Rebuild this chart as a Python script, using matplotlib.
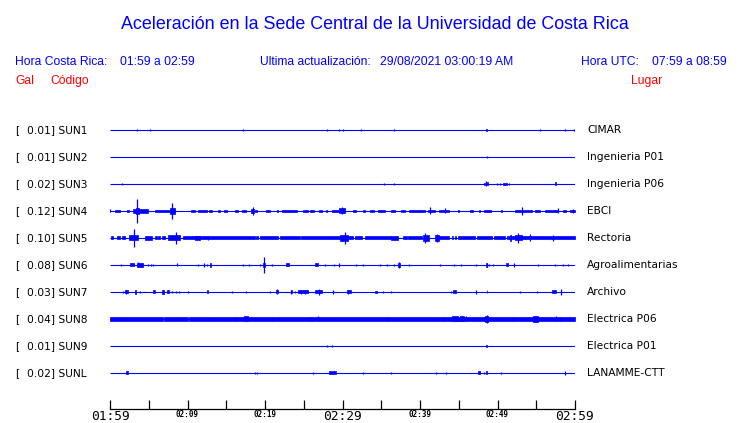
import matplotlib
matplotlib.use("Agg")
import matplotlib.pyplot as plt

codes = ["SUN1", "SUN2", "SUN3", "SUN4", "SUN5", "SUN6", "SUN7", "SUN8", "SUN9", "SUNL"]
gals = [0.01, 0.01, 0.02, 0.12, 0.10, 0.08, 0.03, 0.04, 0.01, 0.02]
places = ["CIMAR", "Ingenieria P01", "Ingenieria P06", "EBCI", "Rectoria",
          "Agroalimentarias", "Archivo", "Electrica P06", "Electrica P01", "LANAMME-CTT"]

# bursts per station: (start minute, end minute, half amplitude); start == end is a spike
sun1 = [(3.5, 3.5, 1.3), (5.2, 5.2, 0.8), (17.1, 17.1, 0.8), (28.0, 28.0, 0.8), (29.6, 29.6, 1.3),
        (30.0, 30.0, 0.8), (32.4, 32.4, 0.8), (36.7, 36.7, 1.3), (48.55, 48.7, 1.2), (55.5, 55.5, 1.3),
        (58.7, 58.7, 1.3), (59.9, 59.9, 1.3)]
sun2 = [(48.6, 48.6, 0.8)]
sun3 = [(1.6, 1.6, 0.8), (35.4, 35.4, 0.8), (36.6, 36.6, 1.3), (48.2, 48.4, 1.2), (48.5, 48.5, 2.5),
        (48.6, 48.8, 1.5), (49.9, 49.9, 0.8), (50.3, 50.3, 0.8), (50.7, 51.2, 1.3), (51.5, 51.5, 0.8),
        (57.4, 57.6, 1.5)]
sun4 = [(0.05, 0.05, 1.5), (0.65, 1.3, 1.3), (2.15, 2.4, 1.3), (3.0, 4.95, 1.6), (3.3, 3.8, 3.0),
        (3.5, 3.5, 12.0), (5.8, 8.4, 1.3), (7.7, 8.4, 3.0), (7.95, 7.95, 8.0), (10.45, 10.95, 1.3),
        (11.4, 12.5, 1.3), (12.8, 13.1, 1.3), (13.9, 14.2, 1.3), (14.7, 15.1, 1.3), (16.1, 16.5, 1.3),
        (17.0, 17.6, 1.3), (18.2, 18.6, 2.0), (18.4, 18.4, 4.0), (18.7, 19.0, 1.3), (20.1, 20.7, 1.3),
        (21.5, 21.7, 1.3), (22.15, 24.1, 1.3), (24.9, 25.6, 1.3), (25.8, 26.3, 1.3), (27.0, 27.4, 1.3),
        (27.9, 28.0, 1.3), (28.6, 30.3, 1.3), (29.5, 30.3, 2.5), (29.9, 29.9, 3.5), (31.4, 31.8, 1.3),
        (32.7, 32.9, 1.3), (33.5, 34.1, 1.3), (34.6, 35.5, 1.3), (36.3, 36.8, 1.3), (37.5, 38.1, 1.3),
        (38.6, 40.6, 1.3), (41.0, 41.9, 1.3), (41.3, 41.3, 3.5), (42.5, 43.7, 1.3), (43.2, 43.2, 2.5),
        (44.9, 45.0, 1.3), (46.5, 46.9, 1.3), (47.6, 47.8, 1.3), (48.3, 49.2, 1.3), (50.5, 50.6, 1.3),
        (52.3, 54.4, 1.3), (53.2, 53.2, 4.0), (54.8, 55.5, 1.3), (56.1, 57.85, 1.3), (57.8, 57.8, 2.5),
        (58.4, 58.9, 1.3), (59.4, 60.0, 1.3), (59.8, 59.8, 2.0)]
sun5 = [(0.1, 0.4, 1.5), (0.85, 1.3, 1.5), (1.5, 1.95, 1.5), (2.4, 3.65, 2.5), (3.1, 3.1, 9.0),
        (4.5, 5.4, 2.0), (5.8, 6.0, 1.5), (6.25, 6.45, 1.5), (6.65, 7.1, 1.5), (7.5, 9.0, 2.5),
        (8.5, 8.5, 6.0), (9.45, 18.7, 1.5), (11.0, 11.6, 2.2), (12.7, 12.7, 2.2), (18.9, 19.1, 1.5),
        (19.35, 21.7, 1.5), (21.9, 24.5, 1.5), (24.7, 29.7, 1.5), (29.7, 30.7, 3.0), (30.3, 30.3, 6.0),
        (30.7, 31.4, 1.5), (31.6, 32.5, 1.5), (32.9, 36.3, 1.5), (36.3, 37.2, 2.0), (37.8, 38.3, 1.5),
        (38.5, 40.2, 1.5), (40.4, 41.1, 3.0), (40.6, 40.6, 5.0), (41.9, 42.4, 3.0), (42.15, 42.15, 4.0),
        (42.4, 43.7, 1.5), (44.1, 44.3, 1.5), (44.5, 44.7, 1.5), (44.9, 47.1, 1.5), (47.3, 49.25, 1.5),
        (49.5, 51.0, 1.5), (51.2, 53.5, 1.5), (51.6, 51.8, 3.0), (52.2, 53.2, 2.5), (52.7, 52.7, 5.0),
        (53.5, 60.0, 1.5), (54.2, 54.2, 3.5), (57.2, 57.2, 3.0)]
sun6 = [(1.4, 1.4, 1.0), (2.6, 3.15, 1.5), (3.45, 4.2, 1.8), (3.65, 3.65, 2.5), (4.9, 4.9, 1.0),
        (5.3, 5.3, 0.8), (5.6, 5.6, 0.8), (8.7, 8.7, 1.5), (11.4, 11.4, 1.0), (12.1, 12.1, 2.0),
        (12.5, 12.5, 1.3), (12.9, 13.0, 2.2), (17.2, 17.2, 1.0), (17.9, 17.9, 1.0), (19.35, 19.35, 1.3),
        (19.75, 20.05, 2.0), (19.9, 19.9, 8.0), (20.9, 20.9, 1.0), (22.7, 23.1, 1.5), (26.45, 26.8, 1.5),
        (27.7, 27.7, 1.2), (28.95, 28.95, 1.2), (29.5, 29.5, 2.2), (31.7, 31.7, 1.0), (32.7, 32.7, 1.0),
        (34.8, 34.8, 1.2), (35.8, 35.8, 1.0), (36.6, 36.6, 1.3), (37.2, 37.45, 2.0), (37.3, 37.3, 3.0),
        (38.6, 38.6, 1.0), (42.6, 42.6, 1.0), (44.4, 44.4, 1.2), (45.3, 45.3, 1.2), (47.2, 47.2, 1.3),
        (48.5, 48.7, 1.8), (48.6, 48.6, 2.3), (48.9, 48.9, 1.2), (49.4, 49.4, 1.3), (51.1, 51.4, 1.5),
        (52.1, 52.1, 2.0), (55.2, 55.2, 1.0), (57.4, 57.4, 1.3), (58.5, 58.5, 0.8), (59.1, 59.1, 1.2)]
sun7 = [(1.7, 1.7, 1.0), (1.95, 2.3, 1.5), (2.05, 2.05, 2.2), (3.2, 3.35, 2.0), (3.9, 3.9, 0.8),
        (5.5, 5.8, 1.5), (6.75, 7.0, 2.0), (7.3, 7.6, 1.5), (7.95, 7.95, 1.2), (8.5, 8.5, 0.8),
        (8.9, 8.9, 0.8), (10.0, 10.0, 0.8), (12.5, 12.7, 1.5), (15.7, 15.7, 0.8), (17.5, 17.5, 1.0),
        (20.6, 20.6, 1.2), (21.4, 21.7, 1.5), (21.55, 21.55, 2.5), (23.3, 23.5, 1.5), (23.4, 23.4, 2.0),
        (23.9, 23.9, 0.8), (24.3, 25.6, 1.5), (24.65, 24.65, 2.0), (25.15, 25.15, 2.0), (26.4, 27.3, 1.5),
        (27.0, 27.0, 3.0), (28.8, 28.8, 2.0), (30.6, 31.05, 1.5), (30.75, 30.75, 2.0), (34.2, 34.5, 1.3),
        (35.2, 35.2, 1.0), (36.3, 36.3, 0.7), (43.95, 43.95, 0.8), (44.3, 44.6, 1.5), (47.2, 47.2, 2.0),
        (48.6, 48.7, 1.5), (52.9, 52.9, 1.2), (55.1, 55.1, 1.2), (57.0, 57.5, 1.5), (58.2, 58.2, 3.0)]
sun8 = [(0.0, 6.85, 1.8), (6.95, 10.05, 1.8), (10.15, 13.5, 1.8), (13.6, 60.0, 1.8), (16.1, 16.1, 2.3),
        (17.3, 17.75, 2.5), (20.95, 20.95, 2.3), (25.8, 25.8, 2.3), (26.05, 26.05, 2.3), (26.8, 26.8, 2.5),
        (35.7, 35.7, 2.3), (43.0, 43.0, 2.3), (44.1, 44.95, 2.5), (45.15, 45.7, 2.5), (45.9, 45.9, 2.5),
        (47.0, 47.0, 2.3), (47.5, 47.5, 2.3), (48.3, 48.3, 2.3), (48.4, 48.75, 2.7), (48.6, 48.6, 4.0),
        (52.0, 52.0, 2.3), (54.6, 55.2, 2.7), (57.5, 57.5, 2.5), (58.1, 58.1, 2.3)]
sun9 = [(28.0, 28.0, 1.3), (28.7, 28.7, 1.3), (48.55, 48.65, 1.3)]
sunl = [(2.05, 2.3, 1.5), (18.75, 18.75, 1.2), (19.0, 19.0, 0.8), (26.2, 26.2, 0.8), (28.3, 29.1, 1.5),
        (32.7, 32.7, 0.7), (36.2, 36.2, 1.0), (42.0, 42.0, 1.0), (43.4, 43.4, 1.2), (47.45, 47.7, 1.5),
        (48.3, 48.3, 0.8), (48.5, 48.7, 1.5), (50.5, 50.5, 0.8), (58.75, 58.75, 2.0)]
bursts = [sun1, sun2, sun3, sun4, sun5, sun6, sun7, sun8, sun9, sunl]

tick_min = list(range(0, 61, 5))
tick_lab = ["01:59", "", "02:09", "", "02:19", "", "02:29", "", "02:39", "", "02:49", "", "02:59"]
big_labels = ["01:59", "02:29", "02:59"]

W, H = 740, 423
BLUE = "#0000ff"
RED = "#ff0000"


def px(x, y):
    return x / W, 1 - y / H


fig = plt.figure(figsize=(W / 100, H / 100), dpi=100)

# traces, y axis in pixels from the top
ax = fig.add_axes([110 / W, 0, 465 / W, 1])
ax.set_xlim(0, 60)
ax.set_ylim(H, 0)
ax.axis("off")
for i, segs in enumerate(bursts):
    y0 = 130 + 27 * i
    ax.hlines(y0, 0, 60, color=BLUE, lw=0.8)
    for t0, t1, a in segs:
        if t1 > t0:
            ax.fill_between([t0, t1], y0 - a, y0 + a, color=BLUE, lw=0.5)
        else:
            ax.vlines(t0, y0 - a, y0 + a, color=BLUE, lw=0.9)
    fig.text(*px(15, y0), "[", fontsize=7.7, family="DejaVu Sans", va="center")
    fig.text(*px(27, y0), f"{gals[i]:.2f}] {codes[i]}", fontsize=7.7, family="DejaVu Sans", va="center")
    fig.text(*px(587, y0), places[i], fontsize=7.7, family="DejaVu Sans", va="center")

# time axis
axt = fig.add_axes([110 / W, 1 - 409 / H, 465 / W, 20 / H])
axt.patch.set_alpha(0)
for s in ["top", "left", "right"]:
    axt.spines[s].set_visible(False)
axt.spines["bottom"].set_linewidth(0.9)
axt.set_xlim(0, 60)
axt.set_yticks([])
axt.set_xticks(tick_min, tick_lab)
axt.tick_params(axis="x", direction="in", length=6.5, width=0.9, pad=1)
for lab in axt.get_xticklabels():
    lab.set_family("DejaVu Sans Mono")
    if lab.get_text() in big_labels:
        lab.set_fontsize(9.3)
    else:
        lab.set_fontsize(5.5)
        lab.set_fontweight("bold")

# header
hf = dict(family="Liberation Sans", va="baseline")
fig.text(*px(375, 29), "Aceleración en la Sede Central de la Universidad de Costa Rica",
         ha="center", color=BLUE, fontsize=12.9, **hf)
fig.text(*px(15, 65), "Hora Costa Rica:", color=BLUE, fontsize=8.7, **hf)
fig.text(*px(120, 65), "01:59 a 02:59", color=BLUE, fontsize=8.7, **hf)
fig.text(*px(260, 65), "Ultima actualización:", color=BLUE, fontsize=8.7, **hf)
fig.text(*px(380, 65), "29/08/2021 03:00:19 AM", color=BLUE, fontsize=8.7, **hf)
fig.text(*px(581, 65), "Hora UTC:", color=BLUE, fontsize=8.7, **hf)
fig.text(*px(652, 65), "07:59 a 08:59", color=BLUE, fontsize=8.7, **hf)
fig.text(*px(15, 84), "Gal", color=RED, fontsize=8.7, **hf)
fig.text(*px(50, 84), "Código", color=RED, fontsize=8.7, **hf)
fig.text(*px(662, 84), "Lugar", color=RED, fontsize=8.7, ha="right", **hf)

fig.savefig("out.png", dpi=100)
